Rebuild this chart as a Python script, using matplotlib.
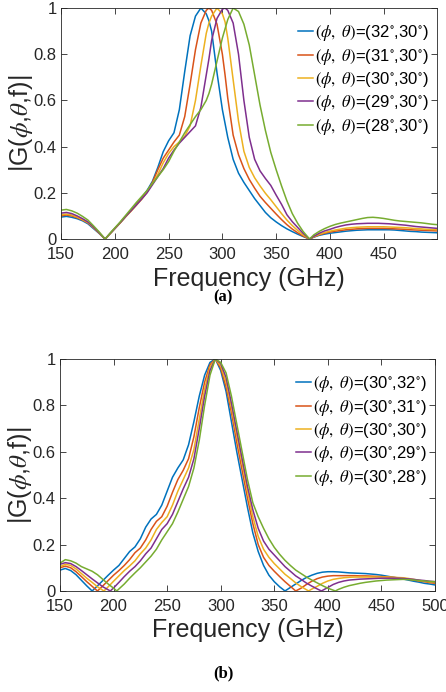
import matplotlib
matplotlib.use("Agg")
import matplotlib.pyplot as plt

# matlab default line colours
COLORS = ["#0072BD", "#D95319", "#EDB120", "#7E2F8E", "#77AC30"]
plt.rcParams["font.family"] = ["Liberation Sans", "DejaVu Sans"]
plt.rcParams["mathtext.fontset"] = "stix"

# ---- panel (a): phi varies, theta = 30 deg ----
freq_a = [150, 155, 160, 165, 170, 175, 180, 185, 191, 195, 200, 205, 210, 215,
          220, 225, 230, 235, 240, 245, 250, 255, 260, 265, 270, 275, 280, 285,
          287.5, 290, 295, 300, 302.5, 305, 310, 315, 320, 325, 330, 335, 340,
          345, 350, 355, 360, 365, 370, 375, 381, 385, 390, 395, 400, 405, 410,
          415, 420, 425, 430, 435, 440, 445, 450, 455, 460, 465, 470, 475, 480,
          485, 490, 495, 500]
labels_a = ["32", "31", "30", "29", "28"]
gain_a_32 = [.095, .098, .094, .088, .079, .066, .046, .026, 0, .02, .045, .07, .097, .124,
             .15, .178, .21, .25, .31, .378, .425, .46, .56, .725, .88, .965, 1.0, .975,
             .945, .9, .72, .56, .5, .44, .345, .285, .245, .21, .175, .145, .115,
             .092, .074, .058, .044, .032, .021, .011, 0, .008, .016, .021, .025, .028, .031,
             .034, .036, .038, .039, .04, .04, .04, .04, .04, .039, .037, .035, .033, .032,
             .03, .029, .028, .027]
gain_a_31 = [.1, .104, .1, .092, .082, .07, .05, .028, 0, .02, .045, .07, .097, .122,
             .148, .175, .205, .245, .3, .35, .385, .42, .45, .53, .67, .82, .935, .99,
             1.0, .99, .93, .8, .71, .61, .45, .365, .305, .258, .22, .185, .158,
             .133, .108, .084, .062, .043, .027, .013, 0, .009, .018, .025, .03, .034, .037,
             .04, .042, .044, .045, .046, .046, .046, .046, .045, .044, .043, .042, .04, .039,
             .038, .037, .036, .035]
gain_a_30 = [.105, .108, .104, .095, .084, .071, .051, .029, 0, .02, .045, .07, .096, .12,
             .146, .172, .203, .24, .28, .33, .37, .4, .42, .445, .49, .6, .75, .89,
             .935, .965, 1.0, .975, .94, .87, .69, .51, .38, .31, .265, .23, .198,
             .17, .14, .11, .082, .058, .037, .018, 0, .01, .02, .028, .034, .039, .043,
             .047, .049, .051, .052, .053, .053, .053, .053, .052, .051, .05, .049, .047, .045,
             .044, .042, .041, .04]
gain_a_29 = [.112, .115, .11, .1, .088, .074, .053, .03, 0, .021, .046, .071, .097, .122,
             .147, .173, .2, .235, .27, .305, .35, .385, .415, .44, .465, .49, .57, .71,
             .78, .86, .955, .995, 1.0, .99, .935, .8, .6, .44, .345, .295, .262,
             .232, .19, .15, .105, .075, .05, .025, 0, .012, .025, .035, .042, .05, .056,
             .061, .064, .066, .067, .068, .068, .068, .067, .066, .064, .062, .06, .057, .054,
             .052, .05, .048, .046]
gain_a_28 = [.125, .128, .122, .112, .098, .082, .058, .033, 0, .022, .048, .074, .102, .13,
             .158, .184, .21, .24, .27, .3, .335, .38, .42, .46, .495, .53, .56, .6,
             .63, .67, .77, .87, .91, .95, 1.0, .985, .93, .84, .71, .58, .47,
             .375, .3, .23, .165, .11, .068, .033, 0, .018, .033, .045, .055, .063, .069,
             .074, .079, .084, .089, .093, .094, .092, .089, .085, .081, .078, .076, .074, .072,
             .07, .067, .064, .062]

# ---- panel (b): theta varies, phi = 30 deg ----
labels_b = ["32", "31", "30", "29", "28"]
freq_b_32 = [150, 155, 160, 165, 170, 175, 180, 185, 190, 195, 200, 205, 210, 215, 220,
             225, 230, 235, 240, 245, 250, 255, 260, 265, 270, 275, 280, 285, 290, 295,
             300, 305, 310, 315, 320, 325, 330, 335, 340, 345, 350, 355, 360, 365, 370,
             375, 380, 385, 390, 395, 400, 405, 410, 415, 420, 425, 430, 435, 440, 445,
             450, 455, 460, 465, 470, 475, 480, 485, 490, 495, 500]
gain_b_32 = [.09, .097, .088, .07, .046, .022, 0, .022, .045, .068, .09, .11, .14, .17, .19,
             .225, .275, .31, .33, .37, .43, .49, .53, .565, .63, .73, .84, .93, .985, 1.0,
             .95, .86, .73, .6, .48, .36, .25, .17, .11, .068, .04, .018, 0, .015, .03,
             .045, .058, .068, .076, .081, .083, .083, .082, .08, .078, .077, .076, .075, .073, .071,
             .068, .064, .06, .056, .052, .047, .042, .038, .033, .03, .026]
freq_b_31 = freq_b_32
gain_b_31 = [.1, .107, .1, .083, .062, .04, .02, 0, .022, .045, .068, .088, .11, .135, .165,
             .185, .22, .265, .3, .32, .365, .425, .48, .52, .57, .665, .79, .9, .975, 1.0,
             .96, .88, .77, .64, .52, .4, .29, .2, .145, .11, .085, .062, .04, .02, 0,
             .012, .028, .042, .053, .06, .064, .066, .066, .066, .066, .066, .065, .065, .064, .063,
             .062, .061, .059, .057, .055, .051, .047, .043, .04, .036, .033]
freq_b_30 = [150, 155, 160, 165, 170, 175, 180, 185, 191, 195, 200, 205, 210, 215, 220,
             225, 230, 235, 240, 245, 250, 255, 260, 265, 270, 275, 280, 285, 290, 295,
             300, 305, 310, 315, 320, 325, 330, 335, 340, 345, 350, 355, 360, 365, 370,
             375, 382, 385, 390, 395, 400, 405, 410, 415, 420, 425, 430, 435, 440, 445,
             450, 455, 460, 465, 470, 475, 480, 485, 490, 495, 500]
gain_b_30 = [.105, .115, .11, .095, .075, .055, .037, .018, 0, .018, .042, .065, .088, .108, .13,
             .16, .185, .22, .265, .295, .32, .37, .43, .48, .53, .61, .74, .87, .965, 1.0,
             .97, .9, .79, .67, .55, .43, .32, .235, .18, .145, .118, .095, .072, .054, .035,
             .019, 0, .008, .02, .033, .043, .05, .054, .057, .059, .06, .06, .06, .06, .06,
             .06, .06, .059, .058, .057, .054, .05, .046, .042, .039, .036]
freq_b_29 = [150, 155, 160, 165, 170, 175, 180, 185, 190, 197, 200, 205, 210, 215, 220,
             225, 230, 235, 240, 245, 250, 255, 260, 265, 270, 275, 280, 285, 290, 295,
             300, 305, 310, 315, 320, 325, 330, 335, 340, 345, 350, 355, 360, 365, 370,
             375, 380, 385, 390, 394, 400, 405, 410, 415, 420, 425, 430, 435, 440, 445,
             450, 455, 460, 465, 470, 475, 480, 485, 490, 495, 500]
gain_b_29 = [.115, .122, .118, .105, .088, .07, .052, .035, .018, 0, .013, .037, .062, .085, .105,
             .13, .16, .185, .225, .265, .29, .33, .385, .44, .49, .57, .7, .84, .95, 1.0,
             .98, .92, .81, .69, .57, .45, .35, .27, .215, .18, .155, .13, .105, .085, .065,
             .05, .034, .021, .009, 0, .015, .028, .037, .043, .047, .049, .051, .052, .053, .054,
             .055, .055, .055, .055, .054, .052, .05, .047, .045, .042, .04]
freq_b_28 = [150, 155, 160, 165, 170, 175, 180, 185, 190, 195, 200, 203, 210, 215, 220,
             225, 230, 235, 240, 245, 250, 255, 260, 265, 270, 275, 280, 285, 290, 295,
             300, 305, 310, 315, 320, 325, 330, 335, 340, 345, 350, 355, 360, 365, 370,
             375, 380, 385, 390, 395, 400, 407, 410, 415, 420, 425, 430, 435, 440, 445,
             450, 455, 460, 465, 470, 475, 480, 485, 490, 495, 500]
gain_b_28 = [.12, .135, .13, .12, .105, .095, .085, .07, .05, .03, .012, 0, .03, .055, .078,
             .1, .125, .15, .18, .22, .255, .29, .34, .395, .45, .53, .65, .8, .93, 1.0,
             .985, .94, .84, .72, .6, .48, .38, .32, .27, .225, .188, .158, .132, .11, .09,
             .075, .06, .047, .035, .023, .012, 0, .007, .016, .023, .028, .033, .037, .04, .043,
             .045, .047, .048, .049, .05, .049, .047, .045, .043, .041, .04]

ylabel = "|G(" + r"$\phi$" + "," + r"$\theta$" + ",f)|"


def style_axes(ax, xmax, xticks):
    ax.set_xlim(150, xmax)
    ax.set_ylim(0, 1)
    ax.set_xticks(xticks)
    ax.set_yticks([0, 0.2, 0.4, 0.6, 0.8, 1])
    ax.set_yticklabels(["0", "0.2", "0.4", "0.6", "0.8", "1"])
    ax.tick_params(direction="in", length=4, width=0.6, top=True, right=True,
                   labelsize=12, colors="#262626")
    ax.tick_params(axis="x", pad=6)
    ax.tick_params(axis="y", pad=3)
    for s in ax.spines.values():
        s.set_linewidth(0.6)
        s.set_color("#262626")
    ax.set_xlabel("Frequency (GHz)", fontsize=18, color="#262626", labelpad=3)
    ax.set_ylabel(ylabel, fontsize=18, color="#262626", labelpad=-1)


def legend_label(phi, theta):
    return (r"$(\phi,\ \theta)$=(" + phi + r"$^{\circ}$," + theta + r"$^{\circ}$)")


def add_legend(ax):
    ax.legend(loc="upper right", bbox_to_anchor=(1.0, 0.97), frameon=False,
              fontsize=12, handlelength=0.9, handletextpad=0.1,
              labelspacing=0.2, borderaxespad=0.2, borderpad=0.3)


fig = plt.figure(figsize=(4.46, 6.92), dpi=100)

# top panel
ax1 = fig.add_axes([0.1368, 0.6546, 0.843, 0.3338])
curves_a = [gain_a_32, gain_a_31, gain_a_30, gain_a_29, gain_a_28]
for gain, lab, col in zip(curves_a, labels_a, COLORS):
    ax1.plot(freq_a, gain, color=col, lw=1.1, label=legend_label(lab, "30"))
style_axes(ax1, 499.5, [150, 200, 250, 300, 350, 400, 450])
add_legend(ax1)

# bottom panel
ax2 = fig.add_axes([0.1345, 0.146, 0.8408, 0.3353])
curves_b = [(freq_b_32, gain_b_32), (freq_b_31, gain_b_31), (freq_b_30, gain_b_30),
            (freq_b_29, gain_b_29), (freq_b_28, gain_b_28)]
for (fr, gain), lab, col in zip(curves_b, labels_b, COLORS):
    ax2.plot(fr, gain, color=col, lw=1.1, label=legend_label("30", lab))
style_axes(ax2, 500, [150, 200, 250, 300, 350, 400, 450, 500])
add_legend(ax2)

# sub-figure captions
fig.text(0.5, 1 - 297 / 692, "(a)", ha="center", va="center",
         family="Liberation Serif", weight="bold", fontsize=12)
fig.text(0.5, 1 - 673 / 692, "(b)", ha="center", va="center",
         family="Liberation Serif", weight="bold", fontsize=12)

fig.savefig("out.png", dpi=100)
